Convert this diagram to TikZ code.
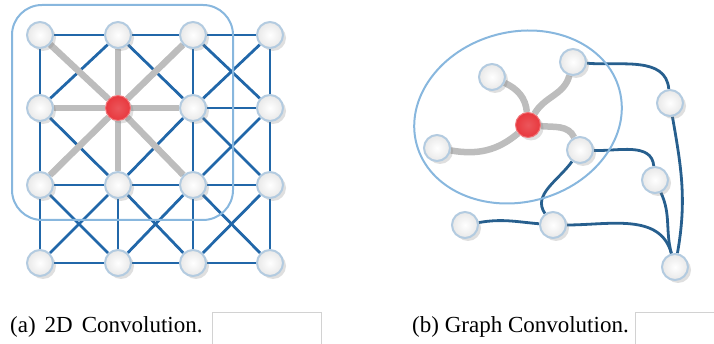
\documentclass[tikz,border=0pt]{standalone}
\usepackage{fontspec}
\setmainfont{Liberation Serif}
\usetikzlibrary{shadows,backgrounds}
\definecolor{kek}{HTML}{2167A9}
\definecolor{sotetkek}{HTML}{275F8E}
\definecolor{halvany}{HTML}{88B7DE}
\definecolor{szegely}{HTML}{B3CBE0}
\definecolor{piros}{HTML}{E8383E}
\definecolor{szurke}{HTML}{BDBDBD}
\tikzset{
  kor/.style={circle,draw=szegely,line width=2pt,minimum size=26pt,inner sep=0pt,
    shading=radial,inner color=white,outer color=gray!18,
    drop shadow={shadow xshift=3pt,shadow yshift=-3pt,opacity=0.25}},
  kozep/.style={circle,draw=piros!70,line width=1pt,minimum size=25pt,inner sep=0pt,
    shading=radial,inner color=piros!85,outer color=piros,
    drop shadow={shadow xshift=3pt,shadow yshift=-3pt,opacity=0.25}},
  el/.style={draw=kek,line width=2.8pt},
  el2/.style={draw=sotetkek,line width=2.8pt},
  sz/.style={draw=szurke,line width=6.5pt},
  keret/.style={draw=halvany,line width=2pt},
  doboz/.style={draw=gray!35,line width=0.8pt},
  felirat/.style={font=\fontsize{23}{26}\selectfont,anchor=base west,inner sep=0pt},
}
\begin{document}
\begin{tikzpicture}[x=1pt,y=1pt]
  \useasboundingbox (0,0) rectangle (714,344);
  % (a) 2D grid
  \foreach \x [count=\i from 0] in {40,118,193,270}
    \foreach \y [count=\j from 0] in {309,236,159,81} {
      \ifnum\i\j=11
        \node[kozep] (g\i\j) at (\x,\y) {};
      \else
        \node[kor] (g\i\j) at (\x,\y) {};
      \fi
    }
  \begin{scope}[on background layer]
    \foreach \i in {0,1,2,3} {
      \foreach \j in {0,1,2,3} {
        \pgfmathtruncatemacro\ii{\i+1}
        \pgfmathtruncatemacro\jj{\j+1}
        \ifnum\i<3 \draw[el] (g\i\j) -- (g\ii\j); \fi
        \ifnum\j<3 \draw[el] (g\i\j) -- (g\i\jj); \fi
        \ifnum\i<3 \ifnum\j<3
          \draw[el] (g\i\j) -- (g\ii\jj);
          \draw[el] (g\ii\j) -- (g\i\jj);
        \fi \fi
      }
    }
    \foreach \t in {00,10,20,01,21,02,12,22} \draw[sz] (g11) -- (g\t);
    \draw[keret,rounded corners=30pt] (12,339) rectangle (233,124);
  \end{scope}

  % (b) graph
  \node[kor] (v1) at (573,282) {};
  \node[kor] (v2) at (492,267) {};
  \node[kozep] (kp) at (528,219) {};
  \node[kor] (v3) at (437,196) {};
  \node[kor] (v4) at (580,194) {};
  \node[kor] (v5) at (670,241) {};
  \node[kor] (v6) at (655,164) {};
  \node[kor] (v7) at (465,119) {};
  \node[kor] (v8) at (553,119) {};
  \node[kor] (v9) at (675,77) {};
  \begin{scope}[on background layer]
    \draw[sz] (v2) to[out=-25,in=95] (kp);
    \draw[sz] (kp) to[out=60,in=-105] (v1);
    \draw[sz] (kp) to[out=-5,in=115] (v4);
    \draw[sz] (kp) to[out=-140,in=-10] (v3);
    \draw[el2] (v1) to[out=-5,in=95] (v5);
    \draw[el2] (v5) to[out=-80,in=80] (v9);
    \draw[el2] (v4) to[out=-2,in=95] (v6);
    \draw[el2] (v6) to[out=-65,in=105] (v9);
    \draw[el2] (v4) to[out=-125,in=125] (v8);
    \draw[el2] (v7) to[out=10,in=175] (v8);
    \draw[el2] (v8) to[out=0,in=105] (v9);
  \end{scope}
  \draw[keret,rotate around={15:(518,227)}] (518,227) ellipse [x radius=105pt,y radius=85pt];

  % captions
  \node[felirat] (fa) at (10,11) {(a)\hspace{9pt}2D\hspace{9pt}Convolution.};
  \draw[doboz] (212,0) |- (321,32) -- (321,0);
  \node[felirat] (fb) at (412,11) {(b) Graph Convolution.};
  \draw[doboz] (635,0) |- (714,32);
\end{tikzpicture}
\end{document}
